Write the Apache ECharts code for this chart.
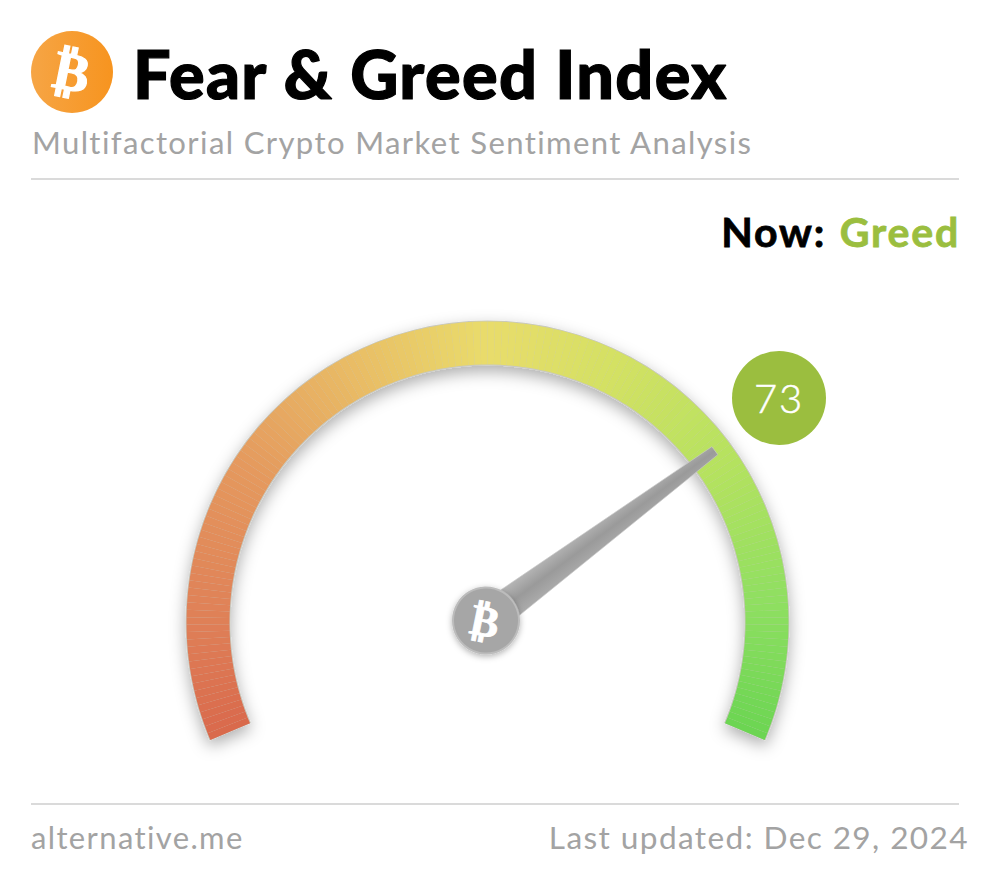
<!DOCTYPE html>
<html>
<head>
<meta charset="utf-8">
<title>Fear & Greed Index</title>
<style>
  html, body { margin: 0; padding: 0; background: #fff; }
  #main { width: 989px; height: 889px; }
  /* no ligatures, slightly open tracking like the original lettering */
  #main text { font-variant-ligatures: none !important; letter-spacing: 0.044em; }
  #main text[style*="900 "] { letter-spacing: 0.02em; }
</style>
<script src="https://cdn.jsdelivr.net/npm/echarts@6/dist/echarts.min.js"></script>
</head>
<body>
<div id="main"></div>
<script>
var indexValue = [73];
var stateName = 'Greed';
var titleText = 'Fear & Greed Index';
var subtitleText = 'Multifactorial Crypto Market Sentiment Analysis';
var siteText = 'alternative.me';
var updatedText = 'Last updated: Dec 29, 2024';
// colours along the arc
var arcStops = [0, 0.1, 0.25, 0.38, 0.5, 0.62, 0.75, 0.88, 1];
var arcColors = ['#d9694c', '#df7f57', '#e59a5e', '#e9bd65', '#e9dc6b', '#d3e163', '#b5e25f', '#8fdf61', '#6bd552'];

function hexToRgb(hex) {
  return [parseInt(hex.substr(1, 2), 16), parseInt(hex.substr(3, 2), 16), parseInt(hex.substr(5, 2), 16)];
}

// the gauge has no conic fill, so the arc band is cut in small colour pieces
function buildArcColors() {
  var pieces = [];
  var steps = 160;
  for (var i = 1; i <= steps; i++) {
    var t = (i - 0.5) / steps;
    var k = 0;
    while (k < arcStops.length - 2 && t > arcStops[k + 1]) k++;
    var f = (t - arcStops[k]) / (arcStops[k + 1] - arcStops[k]);
    var a = hexToRgb(arcColors[k]), b = hexToRgb(arcColors[k + 1]);
    pieces.push([i / steps, 'rgb(' + Math.round(a[0] + (b[0] - a[0]) * f) + ','
      + Math.round(a[1] + (b[1] - a[1]) * f) + ','
      + Math.round(a[2] + (b[2] - a[2]) * f) + ')']);
  }
  return pieces;
}

var hidden = { show: false };
var chart = echarts.init(document.getElementById('main'), null, { renderer: 'svg' });

chart.setOption({
  animation: false,
  backgroundColor: '#fff',
  series: [
    { // shadow under the band
      type: 'gauge', center: [487.5, 622.5], radius: 302, startAngle: 203, endAngle: -23,
      min: 0, max: 100, silent: true, z: 1,
      axisLine: { lineStyle: { width: 45, color: [[1, '#c9c9c0']], shadowColor: 'rgba(0,0,0,0.32)', shadowBlur: 16, shadowOffsetY: 6 } },
      axisTick: hidden, splitLine: hidden, axisLabel: hidden, pointer: hidden, title: hidden, detail: hidden,
      data: [{ value: 0 }]
    },
    { // coloured band
      type: 'gauge', center: [487.5, 622.5], radius: 301, startAngle: 203, endAngle: -23,
      min: 0, max: 100, silent: true, z: 2,
      axisLine: { lineStyle: { width: 43, color: buildArcColors() } },
      axisTick: hidden, splitLine: hidden, axisLabel: hidden, pointer: hidden, title: hidden, detail: hidden,
      data: [{ value: 0 }]
    },
    { // needle, hub and value bubble
      type: 'gauge', center: [486, 620.5], radius: 285, startAngle: 203, endAngle: -25,
      min: 0, max: 100, silent: true, z: 3,
      axisLine: hidden, axisTick: hidden, splitLine: hidden, axisLabel: hidden, title: hidden,
      pointer: {
        show: true,
        icon: 'path://M-5,0 L5,0 L17,100 L-17,100 Z',
        length: 285,
        width: 34,
        itemStyle: {
          color: new echarts.graphic.LinearGradient(0, 0, 1, 0, [
            { offset: 0, color: '#b8b8b8' }, { offset: 0.5, color: '#9a9a9a' }, { offset: 1, color: '#adadad' }
          ]),
          borderColor: '#c8c8c8', borderWidth: 0.6
        }
      },
      anchor: {
        show: true,
        showAbove: true,
        size: 66,
        itemStyle: { color: '#a6a6a6', borderColor: '#bcbcbc', borderWidth: 2, shadowColor: 'rgba(0,0,0,0.3)', shadowBlur: 6, shadowOffsetY: 2 }
      },
      detail: {
        show: true,
        offsetCenter: [293, -222.5],
        width: 94,
        height: 94,
        lineHeight: 94,
        padding: 0,
        borderRadius: 47,
        backgroundColor: '#9bbe3f',
        color: '#fff',
        fontFamily: 'Lato',
        fontWeight: 300,
        fontSize: 40,
        textBorderColor: '#fff',
        textBorderWidth: 0.5,
        formatter: '{value}'
      },
      data: [{ value: indexValue[0] }]
    }
  ],
  graphic: [
    { type: 'circle', shape: { cx: 72, cy: 72, r: 41 }, z: 5,
      style: { fill: new echarts.graphic.LinearGradient(0, 0, 1, 0, [{ offset: 0, color: '#f6a545' }, { offset: 1, color: '#f7941f' }]) } },
    { type: 'text', x: 73, y: 72, rotation: -0.2, z: 6,
      style: { text: '\u20bf', fill: '#fff', stroke: '#fff', lineWidth: 1.2, font: 'bold 54px "DejaVu Sans"', align: 'center', verticalAlign: 'middle' } },
    { type: 'text', x: 133, y: 72.5, z: 6,
      style: { text: titleText, fill: '#000', stroke: '#000', lineWidth: 1.2, font: '900 66.5px Lato', verticalAlign: 'middle' } },
    { type: 'text', x: 32, y: 142, z: 6,
      style: { text: subtitleText, fill: '#a3a3a3', font: '31.1px Lato', verticalAlign: 'middle' } },
    { type: 'line', shape: { x1: 31, y1: 179, x2: 959, y2: 179 }, z: 6, style: { stroke: '#b5b5b5', lineWidth: 1.2 } },
    { type: 'text', x: 826, y: 231, z: 6,
      style: { text: 'Now:', fill: '#000', stroke: '#000', lineWidth: 0.8, font: 'bold 41px Lato', align: 'right', verticalAlign: 'middle' } },
    { type: 'text', x: 960, y: 231, z: 6,
      style: { text: stateName, fill: '#9bbe3f', stroke: '#9bbe3f', lineWidth: 0.8, font: 'bold 41px Lato', align: 'right', verticalAlign: 'middle' } },
    { type: 'text', x: 486, y: 621, rotation: -0.2, z: 10,
      style: { text: '\u20bf', fill: '#fff', stroke: '#fff', lineWidth: 0.8, font: 'bold 43px "DejaVu Sans"', align: 'center', verticalAlign: 'middle' } },
    { type: 'line', shape: { x1: 31, y1: 804, x2: 959, y2: 804 }, z: 6, style: { stroke: '#b5b5b5', lineWidth: 1.2 } },
    { type: 'text', x: 31, y: 837, z: 6,
      style: { text: siteText, fill: '#a3a3a3', font: '31px Lato', verticalAlign: 'middle' } },
    { type: 'text', x: 969, y: 837, z: 6,
      style: { text: updatedText, fill: '#a3a3a3', font: '31.6px Lato', align: 'right', verticalAlign: 'middle' } }
  ]
});
</script>
</body>
</html>
